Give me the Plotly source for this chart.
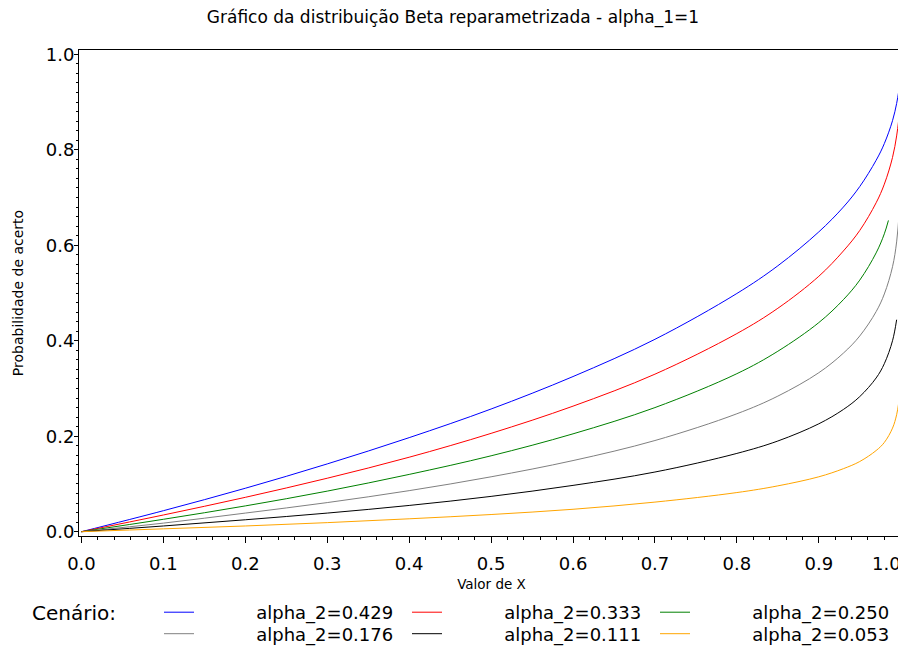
import plotly.graph_objects as go

# values (x positions are denser near the steep end)
x_blue = [0, 0.1, 0.2, 0.3, 0.4, 0.5, 0.6, 0.7, 0.8, 0.85, 0.9, 0.93, 0.95, 0.97, 0.98, 0.99, 0.995, 0.9978]
y_blue = [0, 0.044, 0.091, 0.142, 0.197, 0.257, 0.325, 0.403, 0.499, 0.557, 0.628, 0.680, 0.723, 0.778, 0.813, 0.861, 0.897, 0.925]

x_red = [0, 0.1, 0.2, 0.3, 0.4, 0.5, 0.6, 0.7, 0.8, 0.85, 0.9, 0.93, 0.95, 0.97, 0.98, 0.99, 0.995, 0.9978]
y_red = [0, 0.035, 0.072, 0.112, 0.156, 0.206, 0.263, 0.330, 0.415, 0.468, 0.535, 0.588, 0.631, 0.689, 0.728, 0.784, 0.829, 0.866]

x_green = [0, 0.1, 0.2, 0.3, 0.4, 0.5, 0.6, 0.7, 0.8, 0.85, 0.9, 0.93, 0.95, 0.97, 0.98, 0.985]
y_green = [0, 0.026, 0.054, 0.085, 0.120, 0.159, 0.205, 0.260, 0.331, 0.378, 0.438, 0.486, 0.527, 0.584, 0.624, 0.652]

x_gray = [0, 0.1, 0.2, 0.3, 0.4, 0.5, 0.6, 0.7, 0.8, 0.85, 0.9, 0.93, 0.95, 0.97, 0.98, 0.99, 0.995, 0.998, 1.0]
y_gray = [0, 0.018, 0.039, 0.061, 0.086, 0.115, 0.149, 0.191, 0.247, 0.284, 0.333, 0.374, 0.410, 0.461, 0.498, 0.555, 0.607, 0.665, 0.713]

x_black = [0, 0.1, 0.2, 0.3, 0.4, 0.5, 0.6, 0.7, 0.8, 0.85, 0.9, 0.93, 0.95, 0.97, 0.98, 0.99, 0.995]
y_black = [0, 0.012, 0.025, 0.039, 0.055, 0.074, 0.097, 0.125, 0.164, 0.190, 0.226, 0.256, 0.283, 0.322, 0.352, 0.400, 0.444]

x_orange = [0, 0.1, 0.2, 0.3, 0.4, 0.5, 0.6, 0.7, 0.8, 0.85, 0.9, 0.93, 0.95, 0.97, 0.98, 0.99, 0.995, 0.9978]
y_orange = [0, 0.006, 0.012, 0.019, 0.027, 0.036, 0.047, 0.062, 0.082, 0.096, 0.115, 0.132, 0.147, 0.170, 0.187, 0.217, 0.245, 0.273]

names = ["alpha_2=0.429", "alpha_2=0.333", "alpha_2=0.250",
         "alpha_2=0.176", "alpha_2=0.111", "alpha_2=0.053"]
colors = ["#0000ff", "#ff0000", "#008000", "#808080", "#000000", "#ffa500"]
xs_all = [x_blue, x_red, x_green, x_gray, x_black, x_orange]
ys_all = [y_blue, y_red, y_green, y_gray, y_black, y_orange]

x_ticks = [0, 0.1, 0.2, 0.3, 0.4, 0.5, 0.6, 0.7, 0.8, 0.9]
x_ticktext = ["0.0", "0.1", "0.2", "0.3", "0.4", "0.5", "0.6", "0.7", "0.8", "0.9"]
y_ticks = [0, 0.2, 0.4, 0.6, 0.8, 1.0]
y_ticktext = ["0.0", "0.2", "0.4", "0.6", "0.8", "1.0"]

FONT = "DejaVu Sans"
pad = "\u00a0" * 10
W, H = 898, 638  # page adds an 8px body margin

fig = go.Figure()
for i in range(6):
    fig.add_trace(go.Scatter(
        x=xs_all[i], y=ys_all[i], mode="lines", name=pad + names[i],
        line=dict(color=colors[i], width=1, shape="spline", smoothing=1.0),
        legend="legend" if i < 3 else "legend2",
    ))

axis_common = dict(
    showline=True, linecolor="black", linewidth=1, mirror=True,
    ticks="outside", tickcolor="black", tickwidth=1,
    showgrid=False, zeroline=False, automargin=True,
    tickfont=dict(family=FONT, size=18, color="black"),
)

leg_common = dict(orientation="h", xref="container", yref="container",
                  x=151 / W, xanchor="left", yanchor="middle",
                  entrywidth=203, entrywidthmode="pixels", itemwidth=30,
                  font=dict(family=FONT, size=18, color="black"), traceorder="normal",
                  bgcolor="rgba(0,0,0,0)")

fig.update_layout(
    width=W, height=H,
    plot_bgcolor="white", paper_bgcolor="white",
    margin=dict(l=71, r=2, t=42, b=109.5, autoexpand=False),
    title=dict(text="Gráfico da distribuição Beta reparametrizada - alpha_1=1",
               x=445 / W, xanchor="center", y=1 - 9 / H, yanchor="middle",
               font=dict(family=FONT, size=17, color="black")),
    xaxis=dict(range=[-0.003, 1.004], tickvals=x_ticks, ticktext=x_ticktext, ticklen=6,
               ticklabelstandoff=5,
               minor=dict(dtick=0.02, tick0=0, ticks="outside", ticklen=3, tickcolor="black"),
               title=dict(text="Valor de X", font=dict(family=FONT, size=13.5, color="black"), standoff=6),
               **axis_common),
    yaxis=dict(range=[-0.009, 1.009], tickvals=y_ticks, ticktext=y_ticktext, ticklen=4,
               ticklabelstandoff=-4,
               minor=dict(dtick=0.02, tick0=0, ticks="outside", ticklen=2, tickcolor="black"),
               title=dict(text="Probabilidade de acerto", font=dict(family=FONT, size=14, color="black"), standoff=18),
               **axis_common),
    legend=dict(y=1 - 604.5 / H, **leg_common),
    legend2=dict(y=1 - 626 / H, **leg_common),
    showlegend=True,
)

fig.add_annotation(text="1.0", x=1.0, xref="paper", y=0, yref="paper", yshift=-27, xshift=-1,
                   xanchor="right", yanchor="middle", showarrow=False,
                   font=dict(family=FONT, size=18, color="black"))
fig.add_annotation(text="Cenário:", x=(22 - 71) / 825, xref="paper", y=(528.5 - 606) / 486.5, yref="paper",
                   xanchor="left", yanchor="middle", showarrow=False,
                   font=dict(family=FONT, size=20, color="black"))

fig.write_html("out.html")
